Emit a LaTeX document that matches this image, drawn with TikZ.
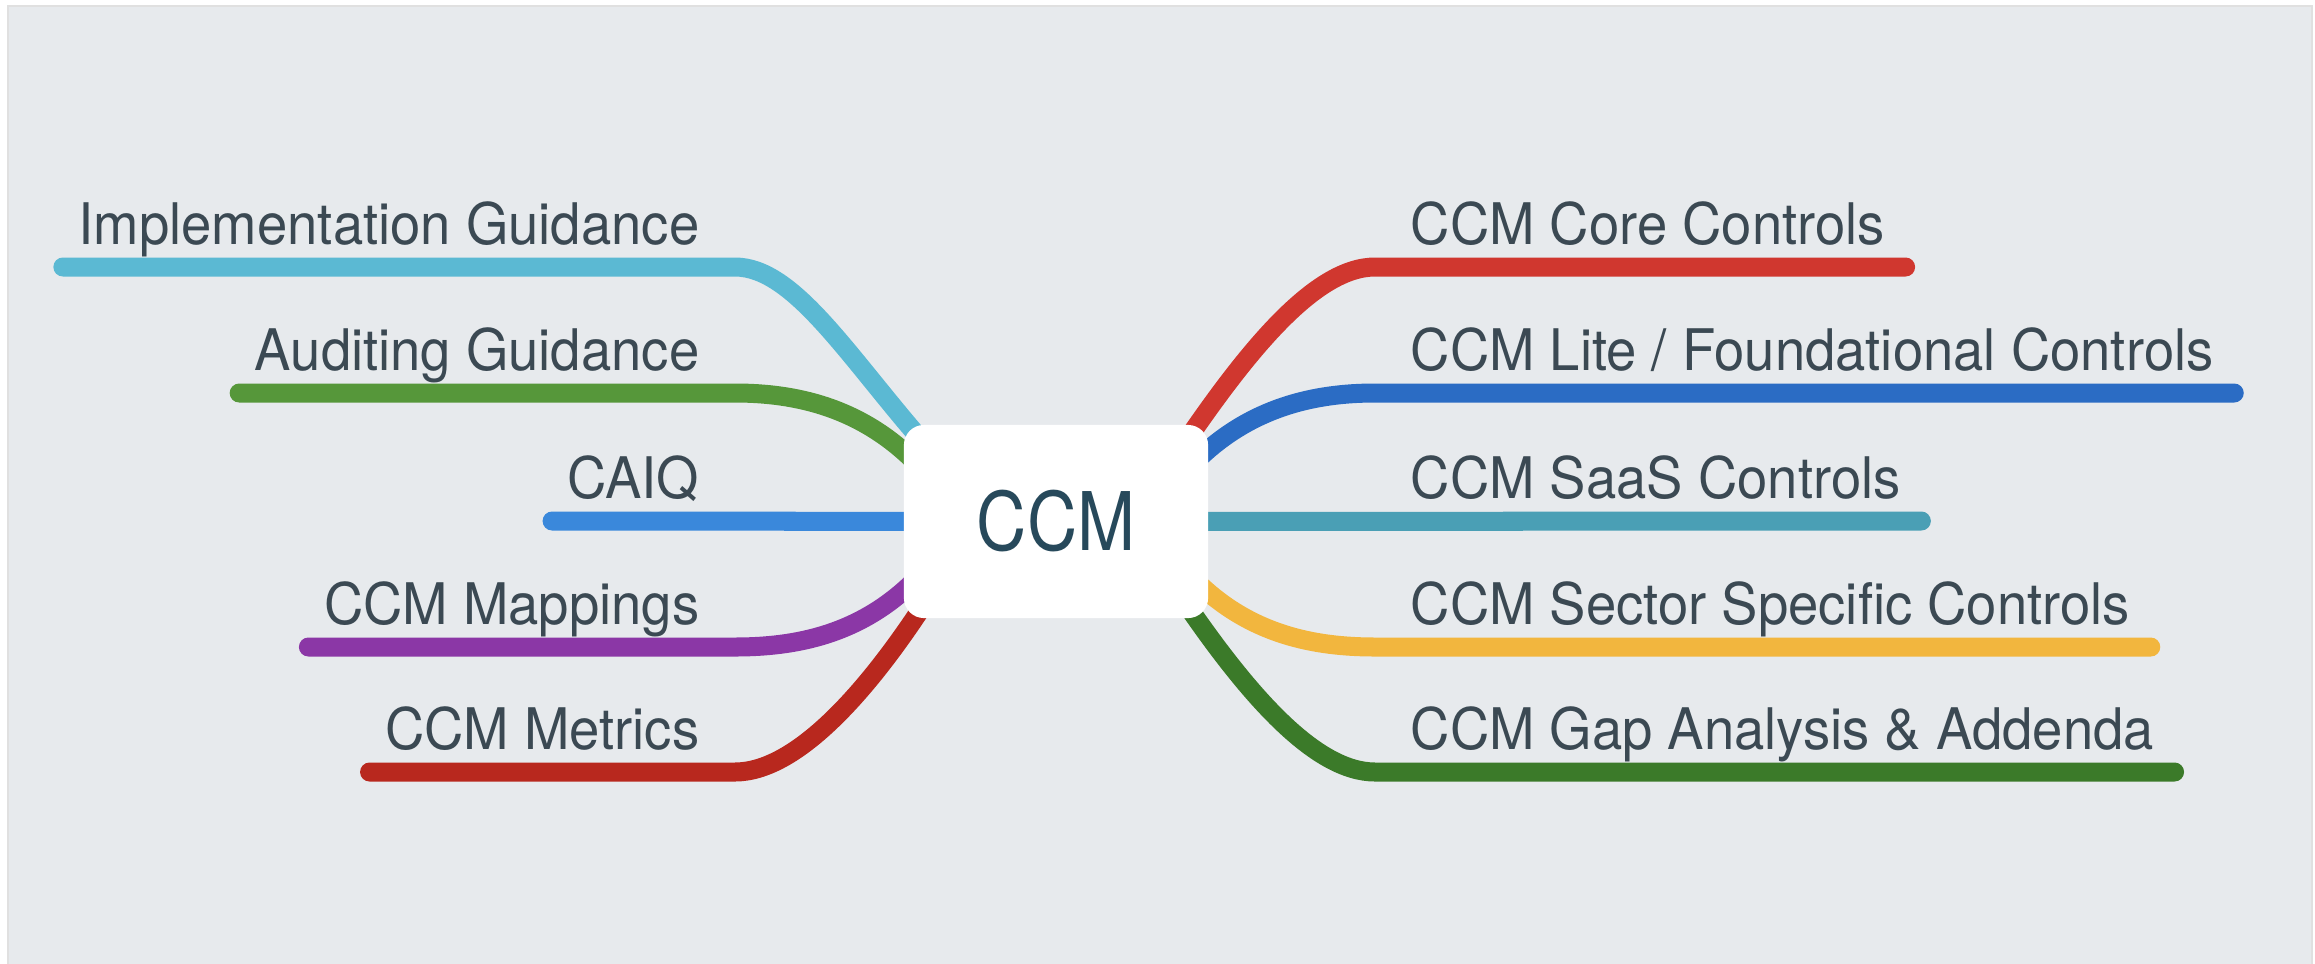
\documentclass[tikz,border=0pt]{standalone}
\usepackage{fontspec}
\newfontfamily\branchfont[FakeStretch=0.95]{TeX Gyre Heros}
\newfontfamily\rootfont[FakeStretch=0.86]{TeX Gyre Heros}
\usetikzlibrary{positioning, calc, backgrounds}

\definecolor{bgray}{HTML}{E7EAED}
\definecolor{txtgray}{HTML}{3B4953}
\definecolor{roottxt}{HTML}{27495B}
\definecolor{implcyan}{HTML}{5BB9D3}
\definecolor{auditgreen}{HTML}{56973A}
\definecolor{caiqblue}{HTML}{3A88DB}
\definecolor{mappurple}{HTML}{8B37A6}
\definecolor{metrred}{HTML}{B8281E}
\definecolor{corered}{HTML}{D0372F}
\definecolor{liteblue}{HTML}{2B6CC4}
\definecolor{saasteal}{HTML}{4A9FB5}
\definecolor{sectoryellow}{HTML}{F2B63E}
\definecolor{gapgreen}{HTML}{3B7A29}

\tikzset{
	branch/.style={line width=0.19cm, line cap=round},
	lefttext/.style={anchor=base east, inner sep=0, text=txtgray, font=\branchfont\fontsize{16.3pt}{19pt}\selectfont},
	righttext/.style={lefttext, anchor=base west},
	rootbox/.style={fill=white, rounded corners=0.2cm, minimum width=3.04cm, minimum height=1.93cm, text=roottxt, font=\rootfont\fontsize{23pt}{27pt}\selectfont}
}

\begin{document}
\begin{tikzpicture}[x=0.01cm, y=-0.01cm]
\useasboundingbox (0,0) rectangle (2315,963);
\node[rootbox] (root) at (1056,521.5) {CCM};
% left side
\node[lefttext] (impl) at (700,244) {Implementation Guidance};
\node[lefttext] (audit) at (700,370) {Auditing Guidance};
\node[lefttext] (caiq) at (700,498) {CAIQ};
\node[lefttext] (mapp) at (700,624) {CCM Mappings};
\node[lefttext] (metr) at (700,749) {CCM Metrics};
% right side
\node[righttext] (core) at (1410,244) {CCM Core Controls};
\node[righttext] (lite) at (1410,370) {CCM Lite / Foundational Controls};
\node[righttext] (saas) at (1410,498) {CCM SaaS Controls};
\node[righttext] (sect) at (1410,624) {CCM Sector Specific Controls};
\node[righttext] (gap) at (1410,749) {CCM Gap Analysis \& Addenda};
\begin{scope}[on background layer]
\filldraw[fill=bgray, draw=black!12, line width=0.02cm] (8,6) rectangle (2312,975);
\foreach \lbl/\col/\ex/\ey/\dx/\dy in {impl/implcyan/-126/-71.5/-80/-90, audit/auditgreen/-141/-59.5/-55/-55, mapp/mappurple/-141/58.5/-55/55, metr/metrred/-126/73.5/-64/100}
	\draw[branch, \col] ($(\lbl.base west)+(-15,23)$) -- ($(\lbl.base east)+(35,23)$) .. controls +(60,0) and +(\dx,\dy) .. ($(root.center)+(\ex,\ey)$);
\foreach \lbl/\col/\ex/\ey/\dx/\dy in {core/corered/124/-71.5/67/-99, lite/liteblue/139/-59.5/55/-55, sect/sectoryellow/139/58.5/55/55, gap/gapgreen/124/73.5/67/99}
	\draw[branch, \col] ($(root.center)+(\ex,\ey)$) .. controls +(\dx,\dy) and +(-60,0) .. ($(\lbl.base west)+(-35,23)$) -- ($(\lbl.base east)+(20,23)$);
\draw[branch, caiqblue] ($(caiq.base west)+(-15,23)$) -- (root.center);
\draw[branch, saasteal] (root.center) -- ($(saas.base east)+(20,23)$);
\end{scope}
\end{tikzpicture}
\end{document}
